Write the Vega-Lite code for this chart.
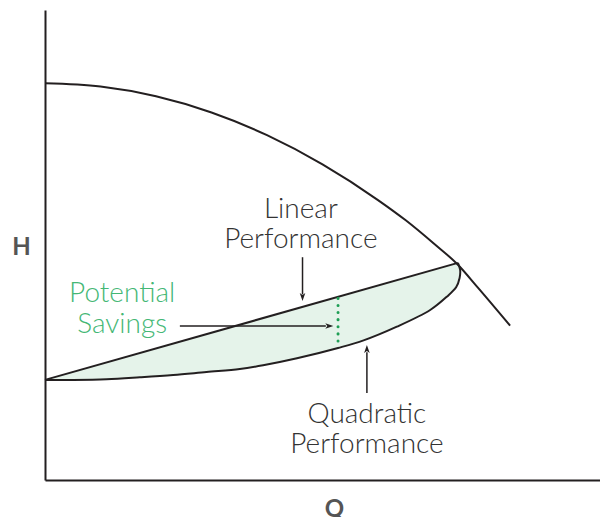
{
  "$schema": "https://vega.github.io/schema/vega-lite/v6.json",
  "width": 555,
  "height": 470,
  "autosize": {"type": "none"},
  "padding": {"left": 45, "top": 10, "right": 0, "bottom": 37},
  "background": "white",
  "config": {"view": {"stroke": null}},
  "datasets": {
    "pump": [
      {"q": 0, "h": 84.4}, {"q": 10, "h": 83.71}, {"q": 20, "h": 81.64}, {"q": 30, "h": 78.19},
      {"q": 40, "h": 73.36}, {"q": 50, "h": 67.15}, {"q": 60, "h": 59.56}, {"q": 65, "h": 55.25},
      {"q": 70, "h": 50.37}, {"q": 74.4, "h": 45.8}, {"q": 78, "h": 40.93}, {"q": 83.8, "h": 32.84}
    ],
    "linear": [{"q": 0, "h": 21.3}, {"q": 74.4, "h": 46.2}],
    "quad": [
      {"i": 1, "q": 0, "h": 21.28}, {"i": 2, "q": 5.1, "h": 21.28}, {"i": 3, "q": 11.1, "h": 21.43},
      {"i": 4, "q": 17.1, "h": 21.85}, {"i": 5, "q": 23.1, "h": 22.34}, {"i": 6, "q": 29.1, "h": 22.98},
      {"i": 7, "q": 35.1, "h": 23.6}, {"i": 8, "q": 39.3, "h": 24.4}, {"i": 9, "q": 45.4, "h": 25.89},
      {"i": 10, "q": 52.8, "h": 28.09}, {"i": 11, "q": 57.4, "h": 29.7}, {"i": 12, "q": 63.4, "h": 32.62},
      {"i": 13, "q": 69.4, "h": 36.17}, {"i": 14, "q": 72.4, "h": 39.0}, {"i": 15, "q": 74.1, "h": 41.06},
      {"i": 16, "q": 74.7, "h": 42.98}, {"i": 17, "q": 74.8, "h": 44.68}, {"i": 18, "q": 74.4, "h": 46.2}
    ],
    "band": [
      {"q": 0, "h": 21.3, "h2": 21.28}, {"q": 5.1, "h": 23.01, "h2": 21.28}, {"q": 11.1, "h": 25.02, "h2": 21.43},
      {"q": 17.1, "h": 27.02, "h2": 21.85}, {"q": 23.1, "h": 29.03, "h2": 22.34}, {"q": 29.1, "h": 31.04, "h2": 22.98},
      {"q": 35.1, "h": 33.05, "h2": 23.6}, {"q": 39.3, "h": 34.45, "h2": 24.4}, {"q": 45.4, "h": 36.5, "h2": 25.89},
      {"q": 52.8, "h": 38.97, "h2": 28.09}, {"q": 57.4, "h": 40.51, "h2": 29.7}, {"q": 63.4, "h": 42.52, "h2": 32.62},
      {"q": 69.4, "h": 44.53, "h2": 36.17}, {"q": 72.4, "h": 45.53, "h2": 39.0}, {"q": 74.1, "h": 46.1, "h2": 41.06},
      {"q": 74.6, "h": 46.2, "h2": 43.5}
    ],
    "savings": [{"q": 52.8, "h": 38.66, "h2": 28.1}],
    "shafts": [
      {"q": 46.4, "h": 47.4, "q2": 46.4, "h2": 39.5},
      {"q": 24.3, "h": 32.77, "q2": 50.6, "h2": 32.77},
      {"q": 58.0, "h": 18.5, "q2": 58.0, "h2": 27.2}
    ],
    "heads": [
      {"q": 46.4, "h": 38.1, "dir": "down"},
      {"q": 51.95, "h": 32.77, "dir": "right"},
      {"q": 58.0, "h": 28.7, "dir": "up"}
    ],
    "labels": [
      {"q": 46.1, "h": 55.7, "label": "Linear"},
      {"q": 46.1, "h": 49.4, "label": "Performance"},
      {"q": 58.0, "h": 12.1, "label": "Quadratic"},
      {"q": 58.0, "h": 5.7, "label": "Performance"}
    ],
    "greenlabels": [
      {"q": 13.9, "h": 37.9, "label": "Potential"},
      {"q": 13.9, "h": 31.3, "label": "Savings"}
    ]
  },
  "layer": [
    {
      "data": {"name": "band"},
      "mark": {"type": "area", "color": "#e5f3ea", "opacity": 1},
      "encoding": {
        "x": {"field": "q", "type": "quantitative", "scale": {"domain": [0, 100]},
          "axis": {"title": "Q", "domain": true, "domainColor": "#231f20", "domainWidth": 2, "ticks": false, "labels": false, "grid": false,
            "titleFont": "Lato", "titleFontSize": 24, "titleFontWeight": 700, "titleColor": "#555555", "titleX": 289, "titleY": 36.5, "titleBaseline": "alphabetic", "titleAlign": "center"}},
        "y": {"field": "h", "type": "quantitative", "scale": {"domain": [0, 100]},
          "axis": {"title": "H", "domain": true, "domainColor": "#231f20", "domainWidth": 2, "ticks": false, "labels": false, "grid": false,
            "titleFont": "Lato", "titleFontSize": 24, "titleFontWeight": 700, "titleColor": "#555555", "titleAngle": 0, "titleX": -24, "titleY": 237, "titleBaseline": "middle", "titleAlign": "center"}},
        "y2": {"field": "h2"}
      }
    },
    {
      "data": {"name": "pump"},
      "mark": {"type": "line", "color": "#231f20", "strokeWidth": 2, "interpolate": "monotone"},
      "encoding": {
        "x": {"field": "q", "type": "quantitative", "scale": {"domain": [0, 100]}},
        "y": {"field": "h", "type": "quantitative", "scale": {"domain": [0, 100]}}
      }
    },
    {
      "data": {"name": "linear"},
      "mark": {"type": "line", "color": "#231f20", "strokeWidth": 2},
      "encoding": {
        "x": {"field": "q", "type": "quantitative"},
        "y": {"field": "h", "type": "quantitative"}
      }
    },
    {
      "data": {"name": "quad"},
      "mark": {"type": "line", "color": "#231f20", "strokeWidth": 2, "interpolate": "catmull-rom"},
      "encoding": {
        "x": {"field": "q", "type": "quantitative"},
        "y": {"field": "h", "type": "quantitative"},
        "order": {"field": "i", "type": "quantitative"}
      }
    },
    {
      "data": {"name": "savings"},
      "mark": {"type": "rule", "color": "#1e9e55", "strokeWidth": 3, "strokeDash": [0.1, 7], "strokeCap": "round"},
      "encoding": {
        "x": {"field": "q", "type": "quantitative"},
        "y": {"field": "h", "type": "quantitative"},
        "y2": {"field": "h2"}
      }
    },
    {
      "data": {"name": "shafts"},
      "mark": {"type": "rule", "color": "#231f20", "strokeWidth": 1.5},
      "encoding": {
        "x": {"field": "q", "type": "quantitative"},
        "y": {"field": "h", "type": "quantitative"},
        "x2": {"field": "q2"},
        "y2": {"field": "h2"}
      }
    },
    {
      "data": {"name": "heads"},
      "transform": [{"filter": "datum.dir == 'down'"}],
      "mark": {"type": "point", "shape": "M0,0 L-0.7,-2 L0,-1.5 L0.7,-2 Z", "size": 64, "filled": true, "color": "#231f20", "opacity": 1, "angle": 0},
      "encoding": {
        "x": {"field": "q", "type": "quantitative"},
        "y": {"field": "h", "type": "quantitative"}
      }
    },
    {
      "data": {"name": "heads"},
      "transform": [{"filter": "datum.dir == 'right'"}],
      "mark": {"type": "point", "shape": "M0,0 L-0.7,-2 L0,-1.5 L0.7,-2 Z", "size": 64, "filled": true, "color": "#231f20", "opacity": 1, "angle": 270},
      "encoding": {
        "x": {"field": "q", "type": "quantitative"},
        "y": {"field": "h", "type": "quantitative"}
      }
    },
    {
      "data": {"name": "heads"},
      "transform": [{"filter": "datum.dir == 'up'"}],
      "mark": {"type": "point", "shape": "M0,0 L-0.7,-2 L0,-1.5 L0.7,-2 Z", "size": 64, "filled": true, "color": "#231f20", "opacity": 1, "angle": 180},
      "encoding": {
        "x": {"field": "q", "type": "quantitative"},
        "y": {"field": "h", "type": "quantitative"}
      }
    },
    {
      "data": {"name": "labels"},
      "mark": {"type": "text", "font": "Lato", "fontSize": 28, "fontWeight": 300, "color": "#333333", "align": "center", "baseline": "alphabetic"},
      "encoding": {
        "x": {"field": "q", "type": "quantitative"},
        "y": {"field": "h", "type": "quantitative"},
        "text": {"field": "label"}
      }
    },
    {
      "data": {"name": "greenlabels"},
      "mark": {"type": "text", "font": "Lato", "fontSize": 28, "fontWeight": 300, "color": "#44b775", "align": "center", "baseline": "alphabetic"},
      "encoding": {
        "x": {"field": "q", "type": "quantitative"},
        "y": {"field": "h", "type": "quantitative"},
        "text": {"field": "label"}
      }
    }
  ]
}
